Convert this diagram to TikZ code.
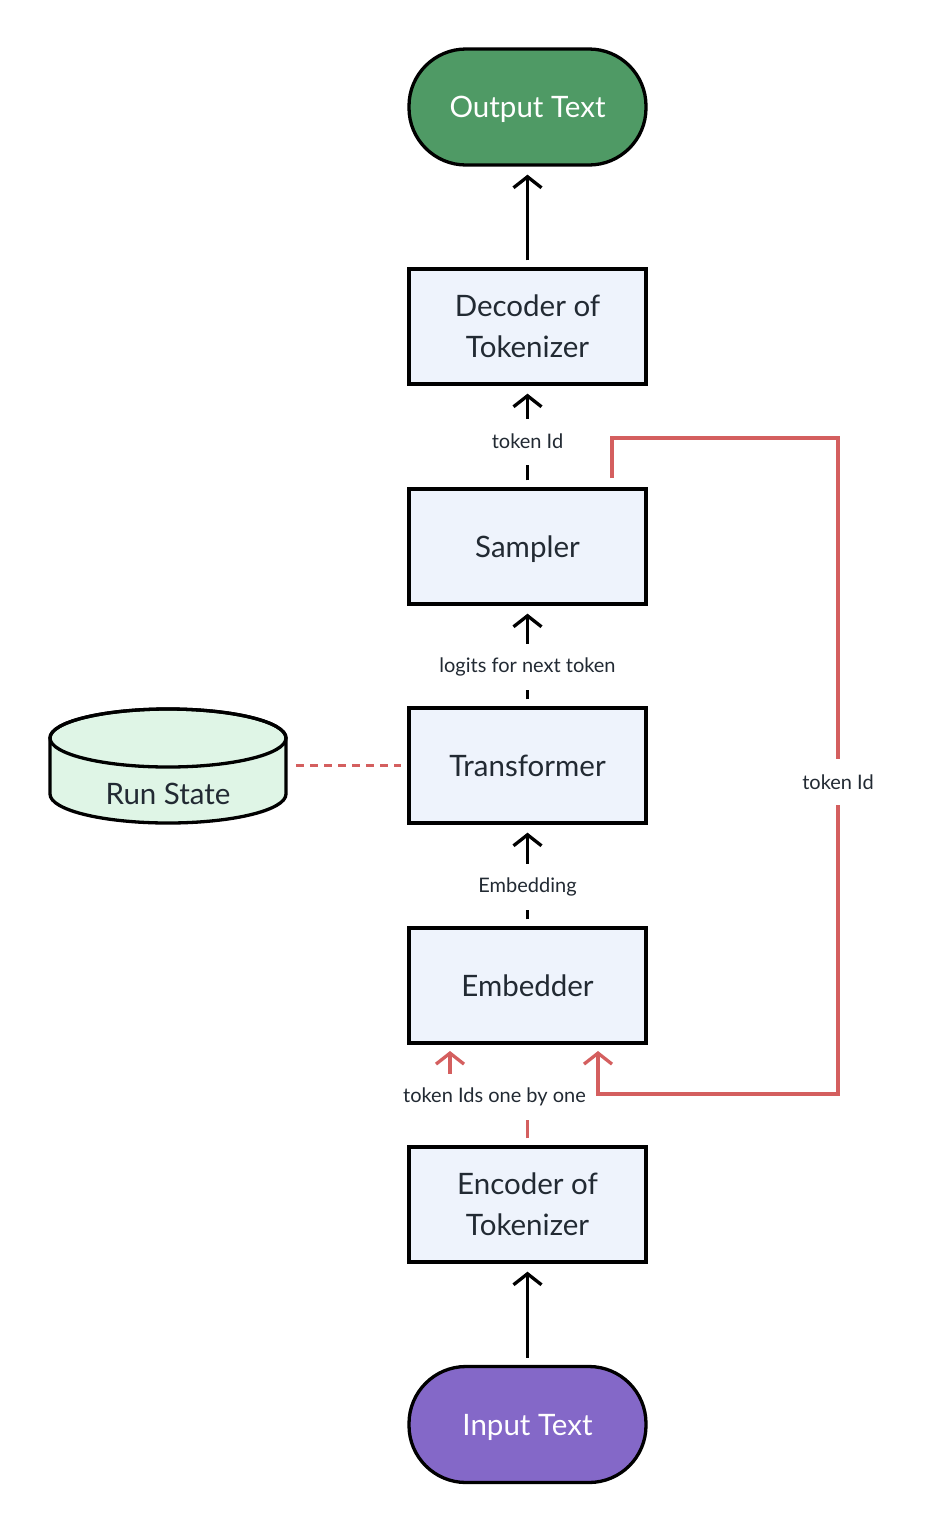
\documentclass[tikz,border=0pt]{standalone}
\usepackage{fontspec}
\setmainfont{Lato}
\usetikzlibrary{arrows.meta,calc}
\definecolor{boxfill}{HTML}{EEF3FC}
\definecolor{outgreen}{HTML}{4F9A65}
\definecolor{inpurple}{HTML}{8468C8}
\definecolor{rsgreen}{HTML}{DFF5E6}
\definecolor{redline}{HTML}{D45F5F}
\definecolor{txt}{HTML}{222A33}
\tikzset{
  procbox/.style={draw=black, line width=3.3pt, fill=boxfill, minimum width=237pt, minimum height=115pt, inner sep=0pt, align=center, text=txt, text depth=0pt, font=\fontsize{29.5}{41}\selectfont},
  twoline/.style={text depth=-6pt},
  termbox/.style={draw=black, line width=3.3pt, rounded corners=57pt, minimum width=237pt, minimum height=116pt, inner sep=0pt, text=white, text depth=0pt, font=\fontsize{29.5}{36}\selectfont},
  conn/.style={line width=3.3pt, -{Straight Barb[length=11pt,width=28pt]}, shorten <=7pt, shorten >=8pt},
  lbl/.style={fill=white, text=txt, font=\fontsize{20}{24}\selectfont, inner xsep=2pt, minimum height=46pt},
}
\begin{document}
\begin{tikzpicture}[x=1pt,y=-1pt]
\useasboundingbox (0,0) rectangle (938,1532);
% nodes
\node[termbox, fill=outgreen] (output) at (527.5,107) {Output Text};
\node[procbox, twoline] (decoder) at (527.5,326.5) {Decoder of\\Tokenizer};
\node[procbox] (sampler) at (527.5,546.5) {Sampler};
\node[procbox] (transformer) at (527.5,765.5) {Transformer};
\node[procbox] (embedder) at (527.5,985.5) {Embedder};
\node[procbox, twoline] (encoder) at (527.5,1204.5) {Encoder of\\Tokenizer};
\node[termbox, fill=inpurple] (input) at (527.5,1424.5) {Input Text};
% run state cylinder
\draw[line width=3.3pt, fill=rsgreen] (50,738) -- (50,794) arc[start angle=180, end angle=360, x radius=118, y radius=-29] -- (286,738) arc[start angle=0, end angle=180, x radius=118, y radius=-29] -- cycle;
\draw[line width=3.3pt] (168,738) ellipse[x radius=118, y radius=29];
\node[text=txt, text depth=0pt, font=\fontsize{29.5}{36}\selectfont] (runstate) at (168,794) {Run State};
\coordinate (rsright) at (296,765.5);
\coordinate (trleft) at (401,765.5);
% connectors
\draw[conn] (input) -- (encoder);
\draw[conn] (decoder) -- (output);
\draw[conn] (sampler) -- node[lbl, pos=0.45] {token Id} (decoder);
\draw[conn] (transformer) -- node[lbl, pos=0.39] {logits for next token} (sampler);
\draw[conn] (embedder) -- node[lbl, pos=0.39] {Embedding} (transformer);
\draw[conn, redline] (encoder.north) -- (527.5,1097) -- (450,1097) -- (450,1043);
\node[lbl] (tidsl) at (494.5,1097) {token Ids one by one};
% feedback loop
\coordinate (fbstart) at (612,478);
\coordinate (fbtop) at (838,438);
\coordinate (fbbot) at (838,1094);
\coordinate (fbend) at (598,1043);
\draw[line width=3.3pt, redline, -{Straight Barb[length=11pt,width=28pt]}, shorten >=8pt] (fbstart) |- (fbtop) -- node[lbl, pos=0.525, inner xsep=2pt] {token Id} (fbbot) -| (fbend);
\draw[line width=3.3pt, redline, dash pattern=on 8pt off 6pt] (rsright) -- (trleft);
\end{tikzpicture}
\end{document}
